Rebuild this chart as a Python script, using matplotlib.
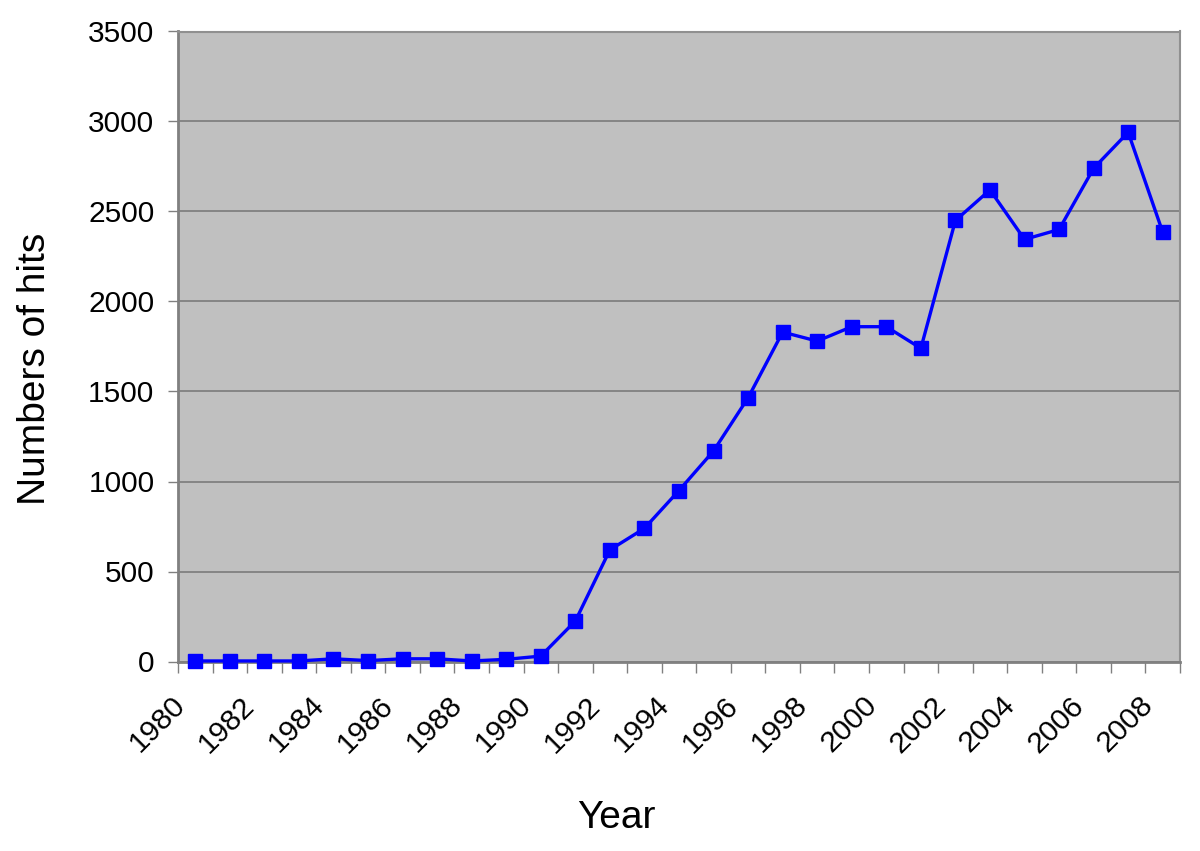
import numpy as np
import matplotlib
matplotlib.use("Agg")
import matplotlib.pyplot as plt
import matplotlib.transforms as mtransforms
from matplotlib.ticker import FixedLocator, NullFormatter

# Data
years = list(range(1980, 2009))
hits = [3, 3, 3, 3, 15, 5, 15, 15, 3, 12, 30,
        225, 620, 740, 950, 1170, 1465, 1830, 1780, 1860, 1860,
        1740, 2450, 2620, 2345, 2400, 2740, 2940, 2385]
y_ticks = [0, 500, 1000, 1500, 2000, 2500, 3000, 3500]

plt.rcParams['font.family'] = ['Liberation Sans', 'DejaVu Sans']

fig = plt.figure(figsize=(12, 8.51), dpi=100)
ax = fig.add_axes([178 / 1200, 1 - 661.5 / 851, 1002 / 1200, 630 / 851])
ax.set_facecolor('#C0C0C0')

x = np.arange(len(years))
ax.plot(x, hits, color='#0000FF', lw=2.4, marker='s', markersize=10.5,
        markerfacecolor='#0000FF', markeredgecolor='#0000FF', zorder=3,
        clip_on=False)

ax.set_xlim(-0.5, len(years) - 0.5)
ax.set_ylim(0, 3500)

# y axis
ax.set_yticks(y_ticks)
ax.yaxis.grid(True, color='#808080', lw=1.3)
ax.set_axisbelow(True)
ax.tick_params(axis='y', direction='out', length=7, width=1, color='#808080',
               labelsize=21.5, pad=10)

# x axis: labels every other year, ticks on category boundaries
ax.xaxis.set_major_locator(FixedLocator(x[::2]))
ax.set_xticklabels([str(y) for y in years[::2]])
ax.xaxis.set_minor_locator(FixedLocator(np.arange(len(years) + 1) - 0.5))
ax.xaxis.set_minor_formatter(NullFormatter())
ax.tick_params(axis='x', which='major', length=0, labelsize=21.5, pad=22)
ax.tick_params(axis='x', which='minor', direction='out', length=8, width=1,
               color='#808080')
shift = mtransforms.ScaledTranslation(-14 / 100, -9 / 100, fig.dpi_scale_trans)
for lbl in ax.get_xticklabels():
    lbl.set_rotation(45)
    lbl.set_ha('right')
    lbl.set_va('center')
    lbl.set_rotation_mode('anchor')
    lbl.set_transform(lbl.get_transform() + shift)

for side in ['left', 'bottom']:
    ax.spines[side].set_color('#808080')
    ax.spines[side].set_linewidth(2)
for side in ['top', 'right']:
    ax.spines[side].set_color('#909090')
    ax.spines[side].set_linewidth(1.5)

fig.text(616 / 1200, 1 - 818 / 851, 'Year', fontsize=28, ha='center', va='center')
fig.text(35 / 1200, 1 - 369 / 851, 'Numbers of hits', fontsize=28, rotation=90,
         ha='center', va='center')

fig.savefig('out.png', dpi=100)
